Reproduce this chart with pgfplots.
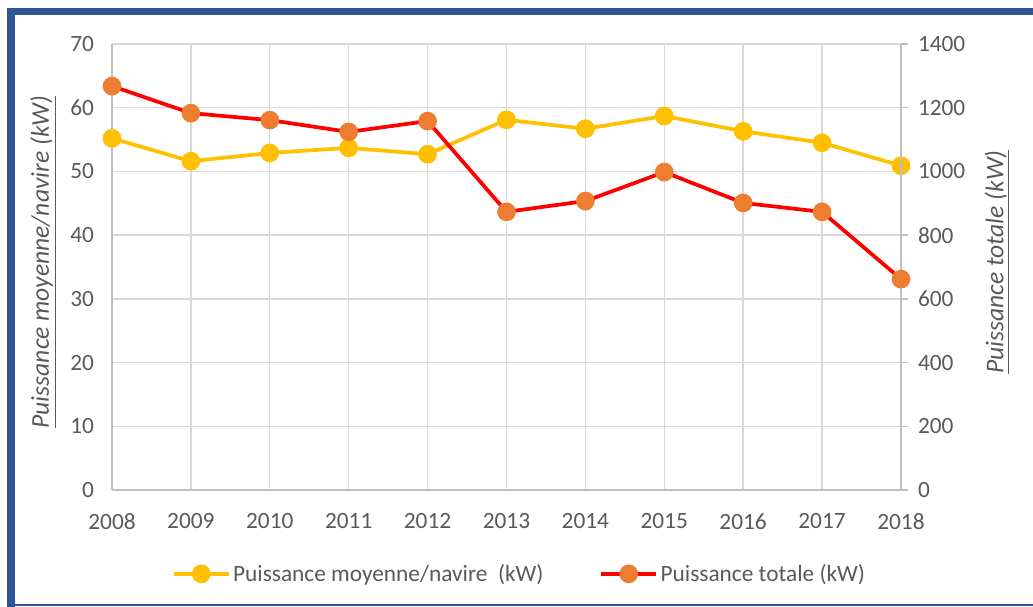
\documentclass[border=0pt]{standalone}
\usepackage{fontspec}
\setmainfont{Carlito}
\usepackage{pgfplots}
\pgfplotsset{compat=1.18}
\definecolor{txt}{HTML}{595959}
\definecolor{gridc}{HTML}{D9D9D9}
\definecolor{axc}{HTML}{BFBFBF}
\definecolor{yel}{HTML}{FFC000}
\definecolor{org}{HTML}{ED7D31}
\definecolor{frm}{HTML}{2F5597}

\pgfplotstableread{
year moy
2008 55.2
2009 51.6
2010 52.9
2011 53.7
2012 52.7
2013 58.1
2014 56.7
2015 58.7
2016 56.3
2017 54.5
2018 50.9
}\moytable

\pgfplotstableread{
year tot
2008 1268
2009 1183
2010 1161
2011 1124
2012 1158
2013 873
2014 907
2015 998
2016 901
2017 873
2018 662
}\tottable

\newcommand{\tickfont}{\fontsize{17.5}{20}\selectfont}
\newcommand{\labfont}{\fontsize{19.2}{22}\selectfont}

\begin{document}
\begin{tikzpicture}
\begin{scope}[x=0.75pt,y=0.75pt]
\useasboundingbox (0,0) rectangle (1033,607);
\fill[frm] (7,0) rectangle (15,599);
\fill[frm] (7,592) rectangle (1033,599);
\fill[frm] (7,1) rectangle (1033,3);
\end{scope}

\begin{axis}[
  at={(84pt,87.75pt)}, anchor=south west,
  scale only axis, width=591.75pt, height=334.5pt,
  xmin=2008, xmax=2018, ymin=0, ymax=70,
  xtick={2008,2009,...,2018}, ytick={0,10,...,70},
  grid=major, major grid style={gridc, line width=1pt},
  axis x line*=bottom, axis y line*=left,
  axis line style={axc, line width=1.1pt, -},
  tick style={draw=none},
  ticklabel style={font=\tickfont, text=txt},
  /pgf/number format/assume math mode=true,
  /pgf/number format/1000 sep={},
  yticklabel style={xshift=-10pt},
  xticklabel style={yshift=-14pt},
  clip=false,
]
\addplot[yel, line width=2.8pt, mark=*, mark size=5.6pt, mark options={fill=yel, draw=yel}] table[x=year, y=moy] {\moytable};
\node[rotate=90, font=\labfont, text=txt] at (rel axis cs:-0.0875,0.511) {\underline{\textit{Puissance moyenne/navire (kW)}}};
\end{axis}

\begin{axis}[
  at={(84pt,87.75pt)}, anchor=south west,
  scale only axis, width=591.75pt, height=334.5pt,
  xmin=2008, xmax=2018, ymin=0, ymax=1400,
  ytick={0,200,...,1400},
  axis x line=none, axis y line*=right,
  axis line style={axc, line width=1.1pt, -},
  ytick style={axc, line width=1pt},
  tick align=outside, major tick length=5.25pt,
  ticklabel style={font=\tickfont, text=txt},
  /pgf/number format/assume math mode=true,
  /pgf/number format/1000 sep={},
  yticklabel style={xshift=4pt},
  clip=false,
  legend columns=2,
  legend style={draw=none, fill=none, font=\tickfont, text=txt,
    at={(0.517,-0.188)}, anchor=center,
    /tikz/every even column/.append style={column sep=40pt}},
  legend image code/.code={\draw[mark repeat=2,mark phase=2,#1] plot coordinates {(0pt,0pt) (20.5pt,0pt) (41pt,0pt)};},
]
\addlegendimage{yel, line width=2.8pt, mark=*, mark size=5.6pt, mark options={fill=yel, draw=yel}}
\addlegendentry{Puissance moyenne/navire\ \ (kW)}
\addplot[red, line width=2.8pt, mark=*, mark size=5.6pt, mark options={fill=org, draw=org}] table[x=year, y=tot] {\tottable};
\addlegendentry{Puissance totale (kW)}
\node[rotate=90, font=\labfont, text=txt] at (rel axis cs:1.1217,0.511) {\underline{\textit{Puissance totale (kW)}}};
\end{axis}
\end{tikzpicture}
\end{document}
